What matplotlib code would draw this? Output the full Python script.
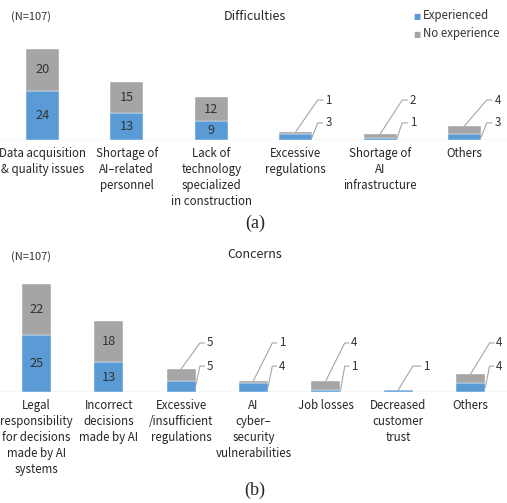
import numpy as np
import matplotlib
matplotlib.use('Agg')
import matplotlib.pyplot as plt

plt.rcParams['font.family'] = ['Noto Sans CJK KR', 'DejaVu Sans']

diff_labels = ['Data acquisition\n& quality issues', 'Shortage of\nAI\u2013related\npersonnel',
               'Lack of\ntechnology\nspecialized\nin construction', 'Excessive\nregulations',
               'Shortage of\nAI\ninfrastructure', 'Others']
diff_exp = [24, 13, 9, 3, 1, 3]
diff_noexp = [20, 15, 12, 1, 2, 4]

conc_labels = ['Legal\nresponsibility\nfor decisions\nmade by AI\nsystems', 'Incorrect\ndecisions\nmade by AI',
               'Excessive\n/insufficient\nregulations', 'AI\ncyber\u2013\nsecurity\nvulnerabilities',
               'Job losses', 'Decreased\ncustomer\ntrust', 'Others']
conc_exp = [25, 13, 5, 4, 1, 1, 4]
conc_noexp = [22, 18, 5, 1, 4, 0, 4]

BLUE = '#5b9bd5'
GREY = '#a5a5a5'
LINE = '#a6a6a6'
TXT = '#333333'
FS = 8.3

W, H = 507, 503
fig = plt.figure(figsize=(W / 100, H / 100), dpi=100)


def panel(base_px, top_px, exp, noexp, labels, ymax, lvl_g, lvl_b, width):
    ax = fig.add_axes([0, 1 - base_px / H, 1, (base_px - top_px) / H])
    x = np.arange(len(exp))
    ax.bar(x, exp, width, color=BLUE, edgecolor='white', linewidth=0.3, zorder=2)
    ax.bar(x, noexp, width, bottom=exp, color=GREY, edgecolor='white', linewidth=0.3, zorder=2)
    ax.axhline(0, color='#d9d9d9', lw=1, zorder=1)
    ax.set_xlim(-0.5, len(exp) - 0.5)
    ax.set_ylim(0, ymax)
    for i, (b, g) in enumerate(zip(exp, noexp)):
        # blue segment
        if b >= 8:
            ax.text(i, b / 2, str(b), ha='center', va='center', fontsize=9.2, color=TXT)
        elif g == 0:
            ax.plot([i, i + 0.2, i + 0.31], [b, lvl_b, lvl_b], color=LINE, lw=0.8, clip_on=False)
            ax.text(i + 0.34, lvl_b, str(b), ha='left', va='center', fontsize=FS, color=TXT)
        else:
            ax.plot([i + width / 2, i + 0.26, i + 0.32], [b / 2, lvl_b, lvl_b], color=LINE, lw=0.8, clip_on=False)
            ax.text(i + 0.35, lvl_b, str(b), ha='left', va='center', fontsize=FS, color=TXT)
        # grey segment
        if g >= 8:
            ax.text(i, b + g / 2, str(g), ha='center', va='center', fontsize=9.2, color=TXT)
        elif g > 0:
            ax.plot([i, i + 0.26, i + 0.32], [b + g, lvl_g, lvl_g], color=LINE, lw=0.8, clip_on=False)
            ax.text(i + 0.35, lvl_g, str(g), ha='left', va='center', fontsize=FS, color=TXT)
    ax.set_xticks(x)
    ax.set_xticklabels(labels, fontsize=FS, color='#262626', linespacing=1.3)
    ax.tick_params(axis='x', length=0, pad=5)
    ax.set_yticks([])
    for s in ax.spines.values():
        s.set_visible(False)
    ax.patch.set_alpha(0)
    return ax


ax1 = panel(140, 40, diff_exp, diff_noexp, diff_labels, 100 / 2.06, 19.4, 8.3, 0.39)
ax2 = panel(392, 272, conc_exp, conc_noexp, conc_labels, 120 / 2.29, 21.4, 11.3, 0.4)

fig.text(31 / W, 1 - 17 / H, '(N=107)', ha='center', va='center', fontsize=8, color=TXT)
fig.text(255 / W, 1 - 16 / H, 'Difficulties', ha='center', va='center', fontsize=9, color='#262626')
fig.text(31 / W, 1 - 257 / H, '(N=107)', ha='center', va='center', fontsize=8, color=TXT)
fig.text(255 / W, 1 - 255 / H, 'Concerns', ha='center', va='center', fontsize=9, color='#262626')

for k, (lab, col) in enumerate([('Experienced', BLUE), ('No experience', GREY)]):
    y = 1 - (16 + 18 * k) / H
    fig.text(417 / W, y, '\u25a0', ha='center', va='center', fontsize=5.5, color=col,
             family=['DejaVu Sans'])
    fig.text(423 / W, y, lab, ha='left', va='center', fontsize=FS, color=TXT)

fig.text(255 / W, 1 - 223 / H, '(a)', ha='center', va='center', fontsize=13,
         family=['Liberation Serif'], color='#262626')
fig.text(255 / W, 1 - 490 / H, '(b)', ha='center', va='center', fontsize=13,
         family=['Liberation Serif'], color='#262626')

fig.savefig('out.png', dpi=100)
